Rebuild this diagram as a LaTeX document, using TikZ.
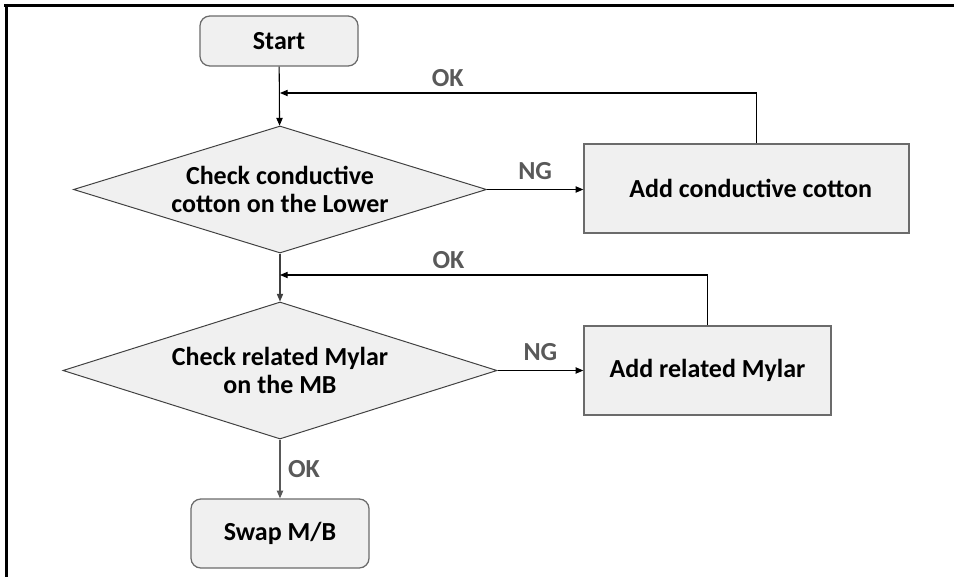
\documentclass[tikz,border=0pt]{standalone}
\usepackage{fontspec}
\setmainfont{Carlito}
\usetikzlibrary{arrows.meta, shapes.geometric, calc}
\definecolor{cfill}{HTML}{F0F0F0}
\definecolor{cedge}{HTML}{6B6B6B}
\definecolor{cdark}{HTML}{404040}
\definecolor{ctag}{HTML}{595959}
\tikzset{
  every picture/.style={font=\bfseries, line width=0.75pt},
  every node/.append style={font=\fontsize{18.5}{19.6}\selectfont\bfseries},
  term/.style={draw=cedge, fill=cfill, rounded corners=7pt, line width=0.9pt, align=center},
  decision/.style={diamond, draw=cdark, fill=cfill, aspect=3.2, inner sep=0pt, line width=0.7pt, align=center},
  action/.style={rectangle, draw=cedge, fill=cfill, line width=0.9pt, align=center},
  arrow/.style={-{Triangle[length=5.5pt, width=4.5pt]}, draw=black, line width=0.75pt},
  tag/.style={text=ctag},
}

\begin{document}
\begin{tikzpicture}[x=0.025cm, y=-0.025cm]
  \useasboundingbox (0,0) rectangle (954,577);
  % frame (top and left edge only)
  \draw[line width=2.2pt] (4,5.5) -- (954,5.5);
  \draw[line width=2.2pt] (6.5,4) -- (6.5,577);

  \node[term, minimum width=3.95cm, minimum height=1.25cm] (start) at (279,41) {Start};
  \node[decision, minimum width=10.325cm, minimum height=3.175cm] (check1) at (280,189.5) {Check conductive\\cotton on the Lower};
  \node[action, minimum width=8.125cm, minimum height=2.225cm] (cotton) at (746.5,188.5) {\hspace*{6pt}Add conductive cotton};
  \node[decision, minimum width=10.85cm, minimum height=3.425cm] (check2) at (280,370.5) {Check related Mylar\\on the MB};
  \node[action, minimum width=6.175cm, minimum height=2.225cm] (mylar) at (707.5,370.5) {Add related Mylar};
  \node[term, minimum width=4.45cm, minimum height=1.725cm] (swap) at (280,533.5) {Swap M/B};

  % main line
  \draw[arrow] (start) -- (check1);
  \draw[arrow, draw=cdark] (check1) -- (check2);
  \draw[arrow, draw=ctag] (check2) -- (swap) node[tag, midway, right=2pt] {OK};

  % NG branches
  \draw[arrow] (check1.east) -- (check1.east -| cotton.west) node[tag, midway, above=3pt] {NG};
  \draw[arrow] (check2.east) -- (check2.east -| mylar.west) node[tag, midway, above=3pt] {NG};

  % back to the main line
  \coordinate (back1) at (280,93);
  \coordinate (back2) at (280,275);
  \draw[arrow] ($(cotton.north)+(10,0)$) |- (back1) node[tag, pos=0.824, above=1pt] {OK};
  \draw[arrow] (mylar.north) |- (back2) node[tag, pos=0.803, above=1pt] {OK};
\end{tikzpicture}
\end{document}
